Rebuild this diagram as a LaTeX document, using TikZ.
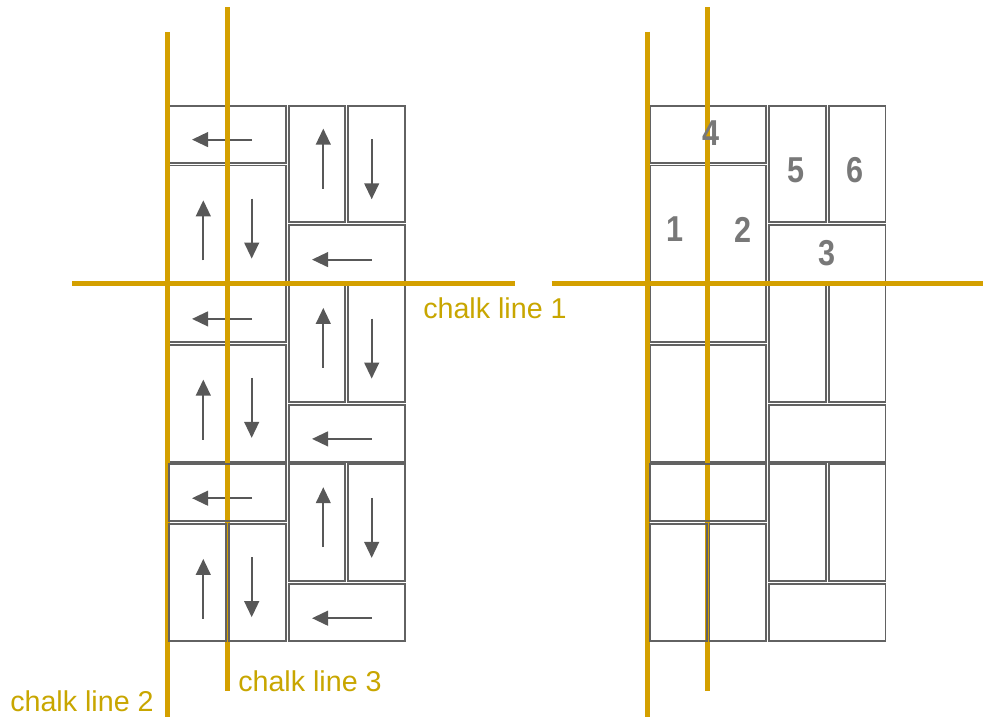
\documentclass[tikz,border=0pt]{standalone}
\usepackage{fontspec}
\setmainfont{Liberation Sans}
\newfontfamily\numfont[FakeStretch=0.85]{Liberation Sans}
\usetikzlibrary{arrows.meta}
\definecolor{chalk}{RGB}{212,160,0}
\definecolor{chalktext}{RGB}{200,166,0}
\definecolor{pavergray}{RGB}{98,98,98}
\definecolor{arrowgray}{RGB}{88,88,88}
\definecolor{numgray}{RGB}{120,120,120}
\def\pux{59.6}
\def\puy{59.78}
\newcommand\drawpavers[2]{%
  \foreach \pa/\pb/\pc/\pd in {0/0/2/1, 0/1/1/3, 1/1/2/3, 2/0/3/2, 3/0/4/2, 2/2/4/3}
    \draw[paver] ({#1+\pa*\pux+1.4},{#2+\pb*\puy+1.4}) rectangle ({#1+\pc*\pux-1.4},{#2+\pd*\puy-1.4});
}
\newcommand\drawarrows[2]{%
  \draw[flowarrow] ({#1+84},{#2+35.3}) -- ({#1+24},{#2+35.3});
  \draw[flowarrow] ({#1+35.3},{#2+156}) -- ({#1+35.3},{#2+96});
  \draw[flowarrow] ({#1+83.7},{#2+94.3}) -- ({#1+83.7},{#2+154.3});
  \draw[flowarrow] ({#1+155.3},{#2+84.3}) -- ({#1+155.3},{#2+24.3});
  \draw[flowarrow] ({#1+203.7},{#2+35}) -- ({#1+203.7},{#2+95});
  \draw[flowarrow] ({#1+203.7},{#2+155.3}) -- ({#1+144},{#2+155.3});
}
\tikzset{
  paver/.style={draw=pavergray, line width=1.45pt},
  flowarrow/.style={draw=arrowgray, line width=1.6pt, -{Triangle[length=12pt,width=11pt]}},
  chalkline/.style={draw=chalk, line width=4.1pt},
  chalklabel/.style={text=chalktext, font=\fontsize{21.5}{24}\selectfont, inner sep=0pt, anchor=base west},
  numlabel/.style={text=numgray, font=\numfont\bfseries\fontsize{27}{29}\selectfont, inner sep=0pt}
}
\begin{document}
\begin{tikzpicture}[x=0.75pt,y=-0.75pt]
\useasboundingbox (0,0) rectangle (983,717);
% upper two groups (below chalk lines)
\drawpavers{168}{104.3}
\drawpavers{168}{283.6}
\drawpavers{648.5}{104.3}
\drawpavers{648.5}{283.6}
\drawarrows{168}{104.3}
\drawarrows{168}{283.6}
\drawarrows{168}{462.9}
% chalk lines
\draw[chalkline] (167.5,32) -- (167.5,717);
\draw[chalkline] (227.5,7.5) -- (227.5,691);
\draw[chalkline] (72,283.3) -- (515,283.3);
\draw[chalkline] (647.3,31.7) -- (647.3,717);
\draw[chalkline] (707.3,7.3) -- (707.3,690.7);
\draw[chalkline] (551.7,283.3) -- (983,283.3);
% lower group (above chalk lines)
\drawpavers{168}{462.9}
\drawpavers{648.5}{462.9}
% labels
\node[chalklabel] (cl1) at (423,318) {chalk line 1};
\node[chalklabel] (cl2) at (10,711.5) {chalk line 2};
\node[chalklabel] (cl3) at (238,691) {chalk line 3};
\node[numlabel] (n4) at (711,133) {4};
\node[numlabel] (n1) at (675,229) {1};
\node[numlabel] (n2) at (743,230) {2};
\node[numlabel] (n5) at (796,170) {5};
\node[numlabel] (n6) at (855,170) {6};
\node[numlabel] (n3) at (827,253) {3};
\end{tikzpicture}
\end{document}
